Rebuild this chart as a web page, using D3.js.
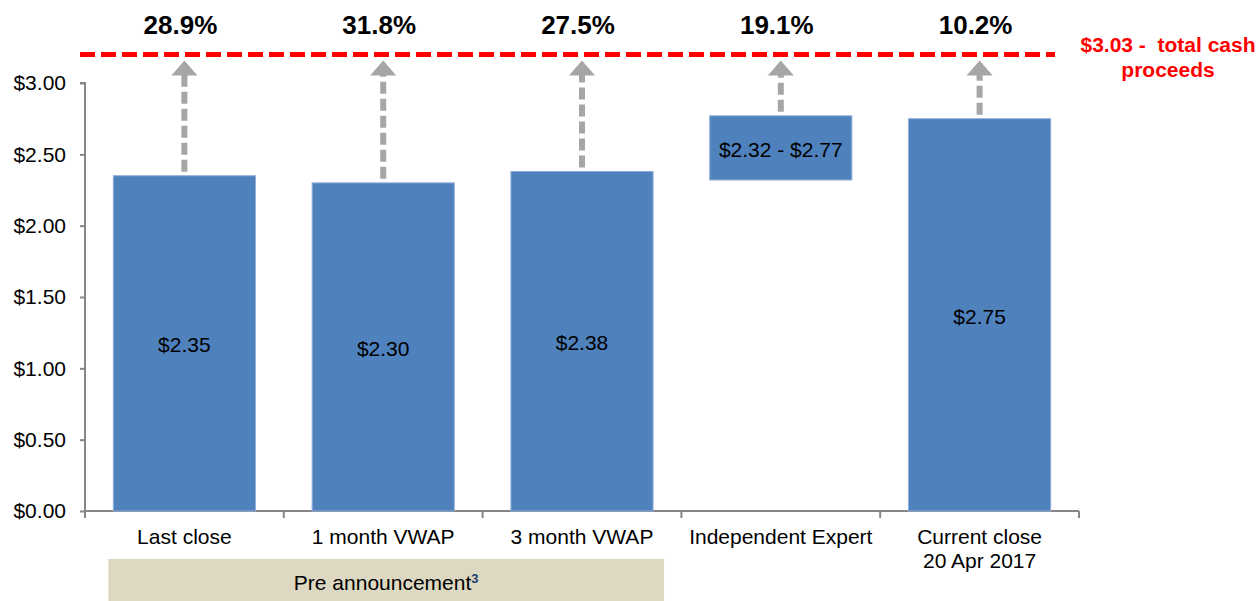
<!DOCTYPE html>
<html>
<head>
<meta charset="utf-8">
<script src="https://cdn.jsdelivr.net/npm/d3@7"></script>
<style>
  body { margin: 0; background: #fff; }
  text { font-family: "Liberation Sans", Arial, sans-serif; }
</style>
</head>
<body>
<div id="container"></div>
<script>
let w = 1260;
let h = 601;

// data
let categories = ["Last close", "1 month VWAP", "3 month VWAP", "Independent Expert", "Current close"];
let subLabels = ["", "", "", "", "20 Apr 2017"];
let lowValues = [0, 0, 0, 2.32, 0];
let highValues = [2.35, 2.30, 2.38, 2.77, 2.75];
let barLabels = ["$2.35", "$2.30", "$2.38", "$2.32 - $2.77", "$2.75"];
let premiums = ["28.9%", "31.8%", "27.5%", "19.1%", "10.2%"];
let yTicks = [0, 0.5, 1, 1.5, 2, 2.5, 3];
let cashLevel = 3.2; // where the dashed line is drawn
let cashLabel = ["$3.03 -  total cash", "proceeds"];
let groupCats = ["Last close", "3 month VWAP"];
let groupLabel = "Pre announcement";

let plotLeft = 85, plotRight = 1079, plotTop = 83, plotBottom = 511;
let fs = 21;

let viz = d3.select("#container").append("svg")
  .attr("width", w)
  .attr("height", h);

let x = d3.scaleBand().domain(categories).range([plotLeft, plotRight]).padding(0);
let y = d3.scaleLinear().domain([0, 3]).range([plotBottom, plotTop]);
let barW = x.bandwidth() * 0.715;

let data = categories.map(function(c, i) {
  return {cat: c, sub: subLabels[i], lo: lowValues[i], hi: highValues[i], label: barLabels[i], pct: premiums[i]};
});

// y axis
let yAxisGroup = viz.append("g").attr("transform", "translate(" + plotLeft + ",0)");
yAxisGroup.call(d3.axisLeft(y).tickValues(yTicks).tickSize(5).tickPadding(14).tickFormat(d3.format("$.2f")));
yAxisGroup.select(".domain").attr("stroke", "#868686").attr("stroke-width", 2).attr("d", "M-5," + y(3) + "H0V" + y(0));
yAxisGroup.selectAll(".tick line").attr("stroke", "#868686").attr("stroke-width", 2);
yAxisGroup.selectAll(".tick text").attr("font-size", fs).attr("fill", "#000").style("font-family", "Liberation Sans, Arial, sans-serif");

// x axis line + boundary ticks
let bounds = categories.map(function(c) { return x(c); }).concat([plotRight]);
viz.append("line").attr("x1", plotLeft).attr("x2", plotRight).attr("y1", y(0)).attr("y2", y(0))
  .attr("stroke", "#868686").attr("stroke-width", 2);
viz.selectAll(".xtick").data(bounds).enter().append("line")
  .attr("x1", function(d) { return d; }).attr("x2", function(d) { return d; })
  .attr("y1", y(0)).attr("y2", y(0) + 7)
  .attr("stroke", "#868686").attr("stroke-width", 2);

// bars
viz.selectAll(".bar").data(data).enter().append("rect")
  .attr("class", "bar")
  .attr("x", function(d) { return x(d.cat) + (x.bandwidth() - barW) / 2; })
  .attr("width", barW)
  .attr("y", function(d) { return y(d.hi); })
  .attr("height", function(d) { return y(d.lo) - y(d.hi); })
  .attr("fill", "#4f81bd")
  .attr("stroke", "#8eaedb")
  .attr("stroke-width", 1);

viz.selectAll(".barlabel").data(data).enter().append("text")
  .attr("x", function(d) { return x(d.cat) + x.bandwidth() / 2; })
  .attr("y", function(d) { return (y(d.lo) + y(d.hi)) / 2 + 9; })
  .attr("text-anchor", "middle")
  .attr("font-size", fs)
  .text(function(d) { return d.label; });

// arrows
let lineY = y(cashLevel);
viz.selectAll(".shaft").data(data).enter().append("line")
  .attr("x1", function(d) { return x(d.cat) + x.bandwidth() / 2; })
  .attr("x2", function(d) { return x(d.cat) + x.bandwidth() / 2; })
  .attr("y1", function(d) { return y(d.hi) - 4; })
  .attr("y2", lineY + 20)
  .attr("stroke", "#a6a6a6")
  .attr("stroke-width", 6)
  .attr("stroke-dasharray", "12,5");
viz.selectAll(".head").data(data).enter().append("path")
  .attr("d", function(d) {
    let cx = x(d.cat) + x.bandwidth() / 2;
    return "M" + (cx - 13) + "," + (lineY + 21) + "L" + cx + "," + (lineY + 6) + "L" + (cx + 13) + "," + (lineY + 21) + "Z";
  })
  .attr("fill", "#a6a6a6");

// red dashed line
viz.append("line")
  .attr("x1", 80).attr("x2", 1055)
  .attr("y1", lineY).attr("y2", lineY)
  .attr("stroke", "#ff0000")
  .attr("stroke-width", 5)
  .attr("stroke-dasharray", "15,6");

viz.selectAll(".cashlabel").data(cashLabel).enter().append("text")
  .attr("x", 1168)
  .attr("y", function(d, i) { return 52 + i * 25; })
  .attr("text-anchor", "middle")
  .attr("font-size", fs)
  .attr("font-weight", "bold")
  .attr("fill", "#ff0000")
  .style("white-space", "pre")
  .text(function(d) { return d; });

// premium labels
viz.selectAll(".pct").data(data).enter().append("text")
  .attr("x", function(d) { return x(d.cat) + x.bandwidth() / 2 - 4; })
  .attr("y", 34)
  .attr("text-anchor", "middle")
  .attr("font-size", 26)
  .attr("font-weight", "bold")
  .text(function(d) { return d.pct; });

// category labels
viz.selectAll(".cat").data(data).enter().append("text")
  .attr("x", function(d) { return x(d.cat) + x.bandwidth() / 2; })
  .attr("y", 544)
  .attr("text-anchor", "middle")
  .attr("font-size", fs)
  .text(function(d) { return d.cat; });
viz.selectAll(".sub").data(data.filter(function(d) { return d.sub; })).enter().append("text")
  .attr("x", function(d) { return x(d.cat) + x.bandwidth() / 2; })
  .attr("y", 568)
  .attr("text-anchor", "middle")
  .attr("font-size", fs)
  .text(function(d) { return d.sub; });

// pre announcement box
let gx0 = x(groupCats[0]) + (x.bandwidth() - barW) / 2 - 5;
let gx1 = x(groupCats[1]) + (x.bandwidth() + barW) / 2 + 11;
viz.append("rect")
  .attr("x", gx0).attr("y", 559)
  .attr("width", gx1 - gx0).attr("height", h - 559)
  .attr("fill", "#ddd8c2");
let gt = viz.append("text")
  .attr("x", (gx0 + gx1) / 2)
  .attr("y", 590)
  .attr("text-anchor", "middle")
  .attr("font-size", fs);
gt.append("tspan").text(groupLabel);
gt.append("tspan").attr("dy", -7).attr("font-size", 13).attr("font-weight", "bold").attr("fill", "#1f3f6e").text("3");
</script>
</body>
</html>
